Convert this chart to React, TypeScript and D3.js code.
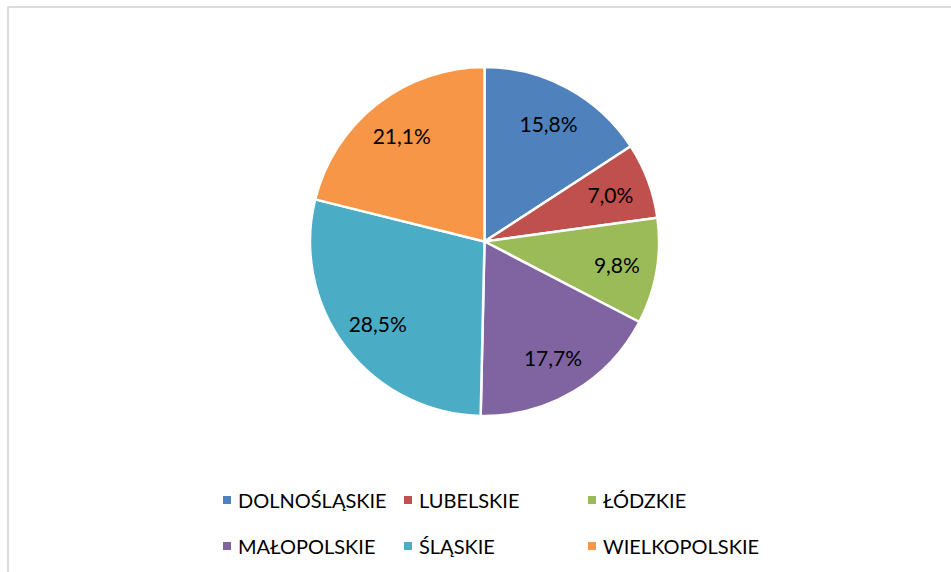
import React from "react";
import * as d3 from "d3";

const categories = ["DOLNOŚLĄSKIE", "LUBELSKIE", "ŁÓDZKIE", "MAŁOPOLSKIE", "ŚLĄSKIE", "WIELKOPOLSKIE"];
const values = [15.8, 7.0, 9.8, 17.7, 28.5, 21.1];
const colors = ["#4F81BD", "#C0504D", "#9BBB59", "#8064A2", "#4BACC6", "#F79646"];

const W = 951;
const H = 572;
const cx = 484.5;
const cy = 241.5;
const R = 174.5;
const FONT = "Lato, 'Open Sans', sans-serif";

export default function App() {
  const pie = d3.pie<number>().sort(null).value((d) => d);
  const arcs = pie(values);
  const arcGen = d3.arc<d3.PieArcDatum<number>>().innerRadius(0).outerRadius(R);
  const labelArc = d3.arc<d3.PieArcDatum<number>>().innerRadius(R * 0.77).outerRadius(R * 0.77);
  const fmt = (v: number) => v.toFixed(1).replace(".", ",") + "%";

  const colX = [223, 404, 588];
  const rowY = [500, 546];

  return (
    <svg
      width={W}
      height={H}
      style={{ position: "absolute", left: 0, top: 0, background: "#fff" }}
      fontFamily={FONT}
    >
      <rect x={8} y={7} width={W + 20} height={H + 20} fill="#fff" stroke="#d9d9d9" strokeWidth={1.75} />
      <g transform={`translate(${cx},${cy})`}>
        {arcs.map((a, i) => (
          <path key={i} d={arcGen(a) || ""} fill={colors[i]} stroke="#fff" strokeWidth={2.5} strokeLinejoin="round" />
        ))}
        {arcs.map((a, i) => {
          const [x, y] = labelArc.centroid(a);
          return (
            <text key={"l" + i} x={x} y={y} textAnchor="middle" dominantBaseline="central" fontSize={21} fill="#000">
              {fmt(values[i])}
            </text>
          );
        })}
      </g>
      {categories.map((c, i) => {
        const col = i % 3;
        const row = Math.floor(i / 3);
        const x = colX[col];
        const y = rowY[row];
        return (
          <g key={"lg" + i}>
            <rect x={x} y={y - 4} width={8} height={8} fill={colors[i]} />
            <text x={x + 15} y={y} dominantBaseline="central" fontSize={20} fill="#000">
              {c}
            </text>
          </g>
        );
      })}
    </svg>
  );
}
